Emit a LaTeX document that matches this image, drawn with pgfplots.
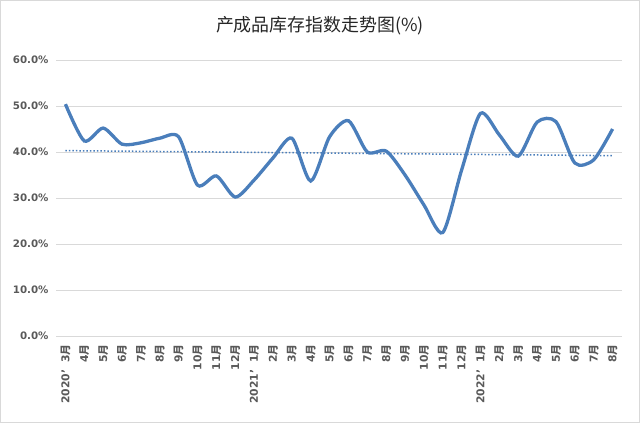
\documentclass[border=0pt]{standalone}
\usepackage{pgfplots}
\pgfplotsset{compat=1.18}
\usepackage{pgfplotstable}
\usepackage{fontspec}
\setmainfont{DejaVu Sans}
\newfontfamily\cjk{Noto Sans CJK SC}

\definecolor{lineblue}{HTML}{4A7EBB}
\definecolor{gridgray}{HTML}{D9D9D9}
\definecolor{labgray}{HTML}{595959}

% 2020.3 - 2022.8, index in %
\pgfplotstableread{
x y
0 50.4
1 42.4
2 45.2
3 41.7
4 42.0
5 43.0
6 43.3
7 32.8
8 34.8
9 30.2
10 33.9
11 38.7
12 43.0
13 33.7
14 43.3
15 46.8
16 40.0
17 40.2
18 35.0
19 28.5
20 22.5
21 36.1
22 48.4
23 43.7
24 39.1
25 46.5
26 46.6
27 37.6
28 38.3
29 45.0
}\stockdata

\newcommand{\yue}{{\cjk 月}}

\begin{document}
\begin{tikzpicture}[x=1bp,y=1bp]
\draw[gridgray, line width=1bp] (0.5,0.5) rectangle (639.5,422.5);
\node[font=\cjk\fontsize{18}{21}\selectfont, text=black!85] at (320,397) {产成品库存指数走势图(\%)};
\begin{axis}[
  at={(56bp,87bp)}, anchor=south west,
  scale only axis, width=566bp, height=276bp,
  xmin=-0.5, xmax=29.5, ymin=0, ymax=60,
  axis line style={draw=none},
  ytick={0,10,...,60},
  ymajorgrids, grid style={gridgray, line width=1bp},
  major tick length=0pt,
  /pgf/number format/assume math mode=true,
  yticklabel={\pgfmathprintnumber[fixed,fixed zerofill,precision=1]{\tick}\%},
  yticklabel style={font=\fontsize{10.3}{12}\selectfont\bfseries, text=labgray, xshift=-4bp},
  xtick={0,...,29},
  xticklabels={2020’\hspace{7bp}3\yue,4\yue,5\yue,6\yue,7\yue,8\yue,9\yue,10\yue,11\yue,12\yue,
    2021’\hspace{7bp}1\yue,2\yue,3\yue,4\yue,5\yue,6\yue,7\yue,8\yue,9\yue,10\yue,11\yue,12\yue,
    2022’\hspace{7bp}1\yue,2\yue,3\yue,4\yue,5\yue,6\yue,7\yue,8\yue},
  xticklabel style={rotate=90, anchor=east, font=\fontsize{10.8}{12}\selectfont\bfseries, text=labgray, xshift=-5bp},
  clip=false,
]
\addplot[draw=lineblue, line width=3.3bp, smooth, tension=0.45] table[x=x,y=y] {\stockdata};
\addplot[draw=lineblue, line width=1.5bp, dotted] coordinates {(0,40.3) (29,39.2)};
\end{axis}
\end{tikzpicture}
\end{document}
